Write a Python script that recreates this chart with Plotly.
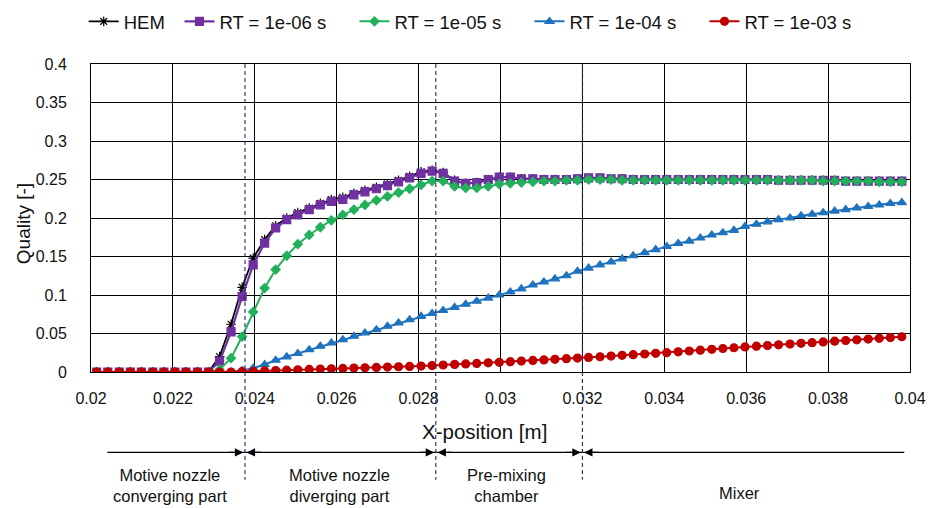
import plotly.graph_objects as go

# ---------------- data ----------------
x_pos = [0.02014, 0.02041, 0.02069, 0.02096, 0.02123, 0.02151, 0.02178, 0.02205, 0.02232, 0.02260,
         0.02287, 0.02314, 0.02342, 0.02369, 0.02396, 0.02424, 0.02451, 0.02478, 0.02505, 0.02533,
         0.02560, 0.02587, 0.02615, 0.02642, 0.02669, 0.02697, 0.02724, 0.02751, 0.02778, 0.02806,
         0.02833, 0.02860, 0.02888, 0.02915, 0.02942, 0.02970, 0.02997, 0.03024, 0.03051, 0.03079,
         0.03106, 0.03133, 0.03161, 0.03188, 0.03215, 0.03243, 0.03270, 0.03297, 0.03324, 0.03352,
         0.03379, 0.03406, 0.03434, 0.03461, 0.03488, 0.03516, 0.03543, 0.03570, 0.03597, 0.03625,
         0.03652, 0.03679, 0.03707, 0.03734, 0.03761, 0.03788, 0.03816, 0.03843, 0.03870, 0.03898,
         0.03925, 0.03952, 0.03980]

hem = [0, 0, 0, 0, 0, 0, 0, 0, 0, 0,
       0, 0.020, 0.062, 0.110, 0.148, 0.172, 0.190, 0.200, 0.207, 0.213,
       0.219, 0.224, 0.227, 0.232, 0.236, 0.240, 0.244, 0.249, 0.254, 0.260,
       0.262, 0.259, 0.249, 0.245, 0.246, 0.250, 0.253, 0.253, 0.251, 0.251,
       0.250, 0.250, 0.250, 0.251, 0.252, 0.252, 0.251, 0.251, 0.250, 0.250,
       0.250, 0.250, 0.250, 0.250, 0.250, 0.250, 0.250, 0.250, 0.250, 0.250,
       0.250, 0.249, 0.249, 0.249, 0.249, 0.249, 0.249, 0.248, 0.248, 0.248,
       0.248, 0.248, 0.248]

rt_1e6 = [0, 0, 0, 0, 0, 0, 0, 0, 0, 0,
          0, 0.014, 0.052, 0.098, 0.139, 0.1675, 0.187, 0.198, 0.204, 0.211,
          0.217, 0.2215, 0.224, 0.230, 0.234, 0.238, 0.242, 0.247, 0.252, 0.258,
          0.261, 0.258, 0.248, 0.245, 0.246, 0.250, 0.253, 0.253, 0.251, 0.251,
          0.250, 0.250, 0.250, 0.251, 0.252, 0.252, 0.251, 0.251, 0.250, 0.250,
          0.250, 0.250, 0.250, 0.250, 0.250, 0.250, 0.250, 0.250, 0.250, 0.250,
          0.250, 0.249, 0.249, 0.249, 0.249, 0.249, 0.249, 0.248, 0.248, 0.248,
          0.248, 0.248, 0.248]

rt_1e5 = [0, 0, 0, 0, 0, 0, 0, 0, 0, 0,
          0, 0.003, 0.018, 0.046, 0.078, 0.109, 0.133, 0.151, 0.166, 0.178,
          0.188, 0.197, 0.204, 0.211, 0.217, 0.223, 0.228, 0.233, 0.238, 0.243,
          0.248, 0.248, 0.241, 0.239, 0.239, 0.241, 0.244, 0.245, 0.246, 0.247,
          0.248, 0.248, 0.249, 0.249, 0.250, 0.250, 0.250, 0.249, 0.249, 0.249,
          0.249, 0.249, 0.249, 0.249, 0.249, 0.249, 0.249, 0.249, 0.249, 0.249,
          0.249, 0.249, 0.249, 0.249, 0.249, 0.248, 0.248, 0.248, 0.248, 0.248,
          0.247, 0.247, 0.247]

rt_1e4 = [0, 0, 0, 0, 0, 0, 0, 0, 0, 0,
          0, 0, 0, 0.002, 0.005, 0.0097, 0.0153, 0.0197, 0.024, 0.029,
          0.0335, 0.0378, 0.042, 0.0464, 0.0508, 0.055, 0.0594, 0.0638, 0.068, 0.0723,
          0.076, 0.080, 0.084, 0.088, 0.092, 0.096, 0.100, 0.104, 0.108, 0.113,
          0.117, 0.121, 0.125, 0.131, 0.135, 0.139, 0.143, 0.147, 0.151, 0.155,
          0.159, 0.163, 0.167, 0.170, 0.174, 0.178, 0.181, 0.184, 0.189, 0.192,
          0.195, 0.198, 0.200, 0.203, 0.205, 0.207, 0.209, 0.211, 0.213, 0.215,
          0.217, 0.219, 0.220]

rt_1e3 = [0, 0, 0, 0, 0, 0, 0, 0, 0, 0,
          0, 0, 0, 0.0005, 0.001, 0.0014, 0.0019, 0.0024, 0.0028, 0.0033,
          0.0038, 0.0042, 0.0047, 0.0051, 0.0055, 0.0060, 0.0064, 0.0068, 0.0072, 0.0077,
          0.0084, 0.0091, 0.0098, 0.0105, 0.0112, 0.0119, 0.0126, 0.0134, 0.0142, 0.0150,
          0.0157, 0.0165, 0.0173, 0.0181, 0.0189, 0.0198, 0.0207, 0.0216, 0.0225, 0.0234,
          0.0243, 0.0251, 0.0262, 0.0273, 0.0283, 0.0294, 0.0305, 0.0315, 0.0326, 0.0335,
          0.0344, 0.0353, 0.0363, 0.0372, 0.0381, 0.0390, 0.0400, 0.0409, 0.0418, 0.0427,
          0.0437, 0.0447, 0.0458]

series_names = ["HEM", "RT = 1e-06 s", "RT = 1e-05 s", "RT = 1e-04 s", "RT = 1e-03 s"]

x_tick_vals = [0.02, 0.022, 0.024, 0.026, 0.028, 0.03, 0.032, 0.034, 0.036, 0.038, 0.04]
x_tick_text = ["0.02", "0.022", "0.024", "0.026", "0.028", "0.03", "0.032", "0.034", "0.036", "0.038", "0.04"]
y_tick_vals = [0, 0.05, 0.1, 0.15, 0.2, 0.25, 0.3, 0.35, 0.4]
y_tick_text = ["0", "0.05", "0.1", "0.15", "0.2", "0.25", "0.3", "0.35", "0.4"]

region_bounds = [0.02376, 0.02842, 0.032]
region_labels = ["Motive nozzle<br>converging part", "Motive nozzle<br>diverging part",
                 "Pre-mixing<br>chamber", "Mixer"]
region_label_x = [0.02194, 0.02608, 0.03015, 0.03584]
region_span = [0.0204, 0.03986]

FONT = "Liberation Sans, Arial, sans-serif"

# ---------------- figure ----------------
fig = go.Figure()

styles = [
    dict(color="#000000", symbol="asterisk-open", size=8, width=1.8),
    dict(color="#7030A0", symbol="square", size=8, width=2.2),
    dict(color="#22B05A", symbol="diamond", size=7, width=2.0),
    dict(color="#1F73BE", symbol="triangle-up", size=8, width=2.0),
    dict(color="#C00000", symbol="circle", size=8, width=2.0),
]
all_y = [hem, rt_1e6, rt_1e5, rt_1e4, rt_1e3]
for k, (name, yv, st) in enumerate(zip(series_names, all_y, styles)):
    fig.add_trace(go.Scatter(
        x=x_pos, y=yv, name=name, mode="lines+markers",
        legend="legend" if k == 0 else "legend2",
        line=dict(color=st["color"], width=st["width"]),
        marker=dict(symbol=st["symbol"], size=st["size"], color=st["color"],
                    line=dict(color=st["color"], width=1.2)),
    ))

# region bar under the axis
y_bar = -0.261
fig.add_shape(type="line", xref="x", yref="paper", x0=region_span[0], x1=region_span[1],
              y0=y_bar, y1=y_bar, line=dict(color="black", width=1.3))
for b in region_bounds:
    fig.add_annotation(x=b - 0.00004, y=y_bar, xref="x", yref="paper", text="", showarrow=True,
                       ax=-16, ay=0, arrowhead=2, arrowsize=1.3, arrowwidth=1.3, arrowcolor="black")
    fig.add_annotation(x=b + 0.00004, y=y_bar, xref="x", yref="paper", text="", showarrow=True,
                       ax=16, ay=0, arrowhead=2, arrowsize=1.3, arrowwidth=1.3, arrowcolor="black")
    fig.add_shape(type="line", xref="x", yref="paper", x0=b, x1=b, y0=1, y1=-0.35,
                  line=dict(color="#24247A", width=1.1, dash="4px,3px"), layer="above")

for lab, lx in zip(region_labels, region_label_x):
    fig.add_annotation(x=lx, y=-0.368 if lab != "Mixer" else -0.392, xref="x", yref="paper",
                       text=lab, showarrow=False, xanchor="center", yanchor="middle",
                       font=dict(family=FONT, size=16.5, color="#111"))

fig.add_annotation(x=0.481, y=-0.193, xref="paper", yref="paper", text="X-position [m]",
                   showarrow=False, xanchor="center", yanchor="middle",
                   font=dict(family=FONT, size=20.5, color="#111"))
fig.add_annotation(x=-0.083, y=0.48, xref="paper", yref="paper", text="Quality [-]",
                   textangle=-90, showarrow=False, xanchor="center", yanchor="middle",
                   font=dict(family=FONT, size=19, color="#111"))

fig.update_layout(
    width=930, height=508,
    margin=dict(l=91, r=20, t=64, b=136, autoexpand=False),
    paper_bgcolor="white", plot_bgcolor="white",
    font=dict(family=FONT, color="#111"),
    showlegend=True,
    legend=dict(orientation="h", x=0.090, y=0.957, xref="container", yref="container",
                xanchor="left", yanchor="middle",
                font=dict(size=18.5, family=FONT),
                itemwidth=30, bgcolor="rgba(0,0,0,0)"),
    legend2=dict(orientation="h", x=0.193, y=0.957, xref="container", yref="container",
                 xanchor="left", yanchor="middle",
                 font=dict(size=18.5, family=FONT), entrywidth=130, entrywidthmode="pixels",
                 itemwidth=30, bgcolor="rgba(0,0,0,0)"),
    xaxis=dict(range=[0.02, 0.04], tickvals=x_tick_vals, ticktext=x_tick_text,
               showgrid=True, gridcolor="black", gridwidth=1, zeroline=False,
               showline=True, linecolor="black", linewidth=1, mirror=True, automargin=False,
               ticks="", tickfont=dict(size=16, family=FONT), ticklabelstandoff=12),
    yaxis=dict(range=[0, 0.4], tickvals=y_tick_vals, ticktext=y_tick_text,
               showgrid=True, gridcolor="black", gridwidth=1, zeroline=False,
               showline=True, linecolor="black", linewidth=1, mirror=True, automargin=False,
               ticks="", tickfont=dict(size=16, family=FONT), ticklabelstandoff=20),
)

fig.write_html("out.html", config={"displayModeBar": False},
               post_script="document.body.style.margin='0';document.body.style.overflow='hidden';")
